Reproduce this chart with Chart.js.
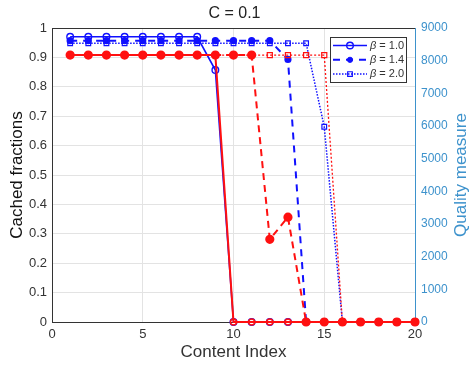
<!DOCTYPE html>
<html>
<head>
<meta charset="utf-8">
<script src="https://cdn.jsdelivr.net/npm/chart.js@4/dist/chart.umd.min.js"></script>
<style>
  html, body { margin: 0; padding: 0; background: #fff; }
  #wrap { width: 469px; height: 365px; }
</style>
</head>
<body>
<div id="wrap"><canvas id="qualityChart" width="469" height="365"></canvas></div>
<script>
// content index 1..20
const contentIndex = [1, 2, 3, 4, 5, 6, 7, 8, 9, 10, 11, 12, 13, 14, 15, 16, 17, 18, 19, 20];
const betaLabels = ['\u03b2 = 1.0', '\u03b2 = 1.4', '\u03b2 = 2.0'];

// cached fractions (left axis)
const cachedB10 = [0.97, 0.97, 0.97, 0.97, 0.97, 0.97, 0.97, 0.97, 0.857, 0, 0, 0, 0, 0, 0, 0, 0, 0, 0, 0];
const cachedB14 = [0.957, 0.957, 0.957, 0.957, 0.957, 0.957, 0.957, 0.957, 0.957, 0.957, 0.957, 0.957, 0.893, 0, 0, 0, 0, 0, 0, 0];
const cachedB20 = [0.948, 0.948, 0.948, 0.948, 0.948, 0.948, 0.948, 0.948, 0.948, 0.948, 0.948, 0.948, 0.948, 0.948, 0.664, 0, 0, 0, 0, 0];

// quality measure (right axis)
const qualityB10 = [8170, 8170, 8170, 8170, 8170, 8170, 8170, 8170, 8170, 0, 0, 0, 0, 0, 0, 0, 0, 0, 0, 0];
const qualityB14 = [8170, 8170, 8170, 8170, 8170, 8170, 8170, 8170, 8170, 8170, 8170, 2530, 3210, 0, 0, 0, 0, 0, 0, 0];
const qualityB20 = [8170, 8170, 8170, 8170, 8170, 8170, 8170, 8170, 8170, 8170, 8170, 8170, 8170, 8170, 8170, 0, 0, 0, 0, 0];

const xTicks = [0, 5, 10, 15, 20];

const BLUE = '#1010ff';
const RED = '#ff1010';
const AXIS_BLUE = '#3d92cc';
const FONT = '"Liberation Sans", Arial, sans-serif';

const pts = vals => vals.map((v, i) => ({ x: contentIndex[i], y: v }));

const datasets = [
  { label: betaLabels[1], data: pts(qualityB14), yAxisID: 'y2', order: 0, inLegend: false,
    borderColor: RED, backgroundColor: RED, borderWidth: 2, borderDash: [7, 5],
    pointStyle: 'circle', pointRadius: 3.6, pointBackgroundColor: RED, pointBorderColor: RED },
  { label: betaLabels[0], data: pts(qualityB10), yAxisID: 'y2', order: 1, inLegend: false,
    borderColor: RED, backgroundColor: RED, borderWidth: 2,
    pointStyle: 'circle', pointRadius: 3, pointBorderWidth: 1.5, pointBackgroundColor: 'rgba(0,0,0,0)', pointBorderColor: RED },
  { label: betaLabels[2], data: pts(qualityB20), yAxisID: 'y2', order: 2, inLegend: false,
    borderColor: RED, backgroundColor: RED, borderWidth: 1.3, borderDash: [2, 2],
    pointStyle: 'rect', pointRadius: 3.6, pointBorderWidth: 1.2, pointBackgroundColor: 'rgba(0,0,0,0)', pointBorderColor: RED },
  { label: betaLabels[0], data: pts(cachedB10), yAxisID: 'y', order: 3, inLegend: true,
    borderColor: BLUE, backgroundColor: BLUE, borderWidth: 1.6,
    pointStyle: 'circle', pointRadius: 3.3, pointBorderWidth: 1.4, pointBackgroundColor: 'rgba(0,0,0,0)', pointBorderColor: BLUE },
  { label: betaLabels[1], data: pts(cachedB14), yAxisID: 'y', order: 4, inLegend: true,
    borderColor: BLUE, backgroundColor: BLUE, borderWidth: 2, borderDash: [7, 6],
    pointStyle: 'circle', pointRadius: 2.6, pointBackgroundColor: BLUE, pointBorderColor: BLUE },
  { label: betaLabels[2], data: pts(cachedB20), yAxisID: 'y', order: 5, inLegend: true,
    borderColor: BLUE, backgroundColor: BLUE, borderWidth: 1.5, borderDash: [1.5, 1.5],
    pointStyle: 'rect', pointRadius: 3.3, pointBorderWidth: 1.2, pointBackgroundColor: 'rgba(0,0,0,0)', pointBorderColor: BLUE }
];
datasets.forEach(d => { d.clip = false; d.tension = 0; d.fill = false; });

// white page + top frame line
const frame = {
  id: 'frame',
  beforeDraw(chart) {
    const ctx = chart.ctx;
    ctx.save();
    ctx.fillStyle = '#fff';
    ctx.fillRect(0, 0, chart.width, chart.height);
    ctx.restore();
  },
  afterDatasetsDraw(chart) {
    const { ctx, chartArea: a } = chart;
    ctx.save();
    ctx.strokeStyle = '#333';
    ctx.lineWidth = 1;
    ctx.beginPath();
    ctx.moveTo(a.left, a.top + 0.5);
    ctx.lineTo(a.right, a.top + 0.5);
    ctx.stroke();
    ctx.restore();
  }
};

// right axis title, read bottom to top like MATLAB
const rightTitle = {
  id: 'rightTitle',
  afterDraw(chart) {
    const { ctx, chartArea: a } = chart;
    ctx.save();
    ctx.translate(461, (a.top + a.bottom) / 2);
    ctx.rotate(-Math.PI / 2);
    ctx.font = '17px ' + FONT;
    ctx.fillStyle = AXIS_BLUE;
    ctx.textAlign = 'center';
    ctx.textBaseline = 'middle';
    ctx.fillText('Quality measure', 0, 0);
    ctx.restore();
  }
};

// boxed legend inside the plot, line + marker like MATLAB
const boxLegend = {
  id: 'boxLegend',
  afterDraw(chart) {
    const ctx = chart.ctx;
    const x0 = 330, y0 = 37, w = 76, h = 45;
    ctx.save();
    ctx.fillStyle = '#fff';
    ctx.fillRect(x0, y0, w, h);
    ctx.strokeStyle = '#333';
    ctx.lineWidth = 1;
    ctx.strokeRect(x0 + 0.5, y0 + 0.5, w, h);
    const items = chart.data.datasets.filter(d => d.inLegend);
    items.forEach((d, i) => {
      const y = y0 + 8.5 + i * 14.3;
      ctx.save();
      ctx.strokeStyle = d.borderColor;
      ctx.lineWidth = d.borderWidth;
      ctx.setLineDash(d.borderDash || []);
      ctx.beginPath();
      ctx.moveTo(333, y);
      ctx.lineTo(367, y);
      ctx.stroke();
      ctx.setLineDash([]);
      ctx.fillStyle = d.pointBackgroundColor;
      ctx.strokeStyle = d.pointBorderColor;
      ctx.lineWidth = d.pointBorderWidth || 1;
      Chart.helpers.drawPoint(ctx, { pointStyle: d.pointStyle, radius: d.pointRadius, rotation: 0, borderWidth: d.pointBorderWidth || 1 }, 350, y);
      ctx.restore();
      ctx.fillStyle = '#333';
      ctx.textBaseline = 'middle';
      ctx.font = 'italic 11px ' + FONT;
      ctx.fillText(d.label.charAt(0), 370, y);
      const bw = ctx.measureText(d.label.charAt(0)).width;
      ctx.font = '11px ' + FONT;
      ctx.fillText(d.label.slice(1), 370 + bw, y);
    });
    ctx.restore();
  }
};

const gridColor = '#e3e3e3';

new Chart(document.getElementById('qualityChart').getContext('2d'), {
  type: 'line',
  data: { datasets: datasets },
  options: {
    responsive: false,
    animation: false,
    devicePixelRatio: 1,
    layout: { padding: 0 },
    plugins: {
      legend: { display: false },
      tooltip: { enabled: false },
      title: {
        display: true,
        text: 'C = 0.1',
        color: '#222',
        font: { family: FONT, size: 16, weight: 'normal' },
        padding: { top: 4.4, bottom: 4.4 }
      }
    },
    scales: {
      x: {
        type: 'linear',
        min: 0,
        max: 20,
        afterBuildTicks: s => { s.ticks = xTicks.map(v => ({ value: v })); },
        afterFit: s => { s.height = 43; },
        grid: { color: gridColor, drawTicks: false },
        border: { color: '#333' },
        ticks: { color: '#333', padding: 5, font: { family: FONT, size: 13 } },
        title: {
          display: true, text: 'Content Index', color: '#333',
          font: { family: FONT, size: 17 }, padding: { top: 0, bottom: 2.4 }
        }
      },
      y: {
        position: 'left',
        min: 0,
        max: 1,
        afterFit: s => { s.width = 52; },
        grid: { color: gridColor, drawTicks: false },
        border: { color: '#333' },
        ticks: {
          stepSize: 0.1, color: '#333', padding: 5, font: { family: FONT, size: 13 },
          callback: v => String(Math.round(v * 10) / 10)
        },
        title: {
          display: true, text: 'Cached fractions', color: '#111',
          font: { family: FONT, size: 17 }, padding: { top: 7, bottom: 0 }
        }
      },
      y2: {
        position: 'right',
        min: 0,
        max: 9000,
        afterFit: s => { s.width = 54; },
        grid: { drawOnChartArea: false, drawTicks: false },
        border: { color: AXIS_BLUE },
        ticks: {
          stepSize: 1000, color: AXIS_BLUE, padding: 6,
          font: { family: FONT, size: 12 },
          callback: v => String(v)
        }
      }
    }
  },
  plugins: [frame, rightTitle, boxLegend]
});
</script>
</body>
</html>
